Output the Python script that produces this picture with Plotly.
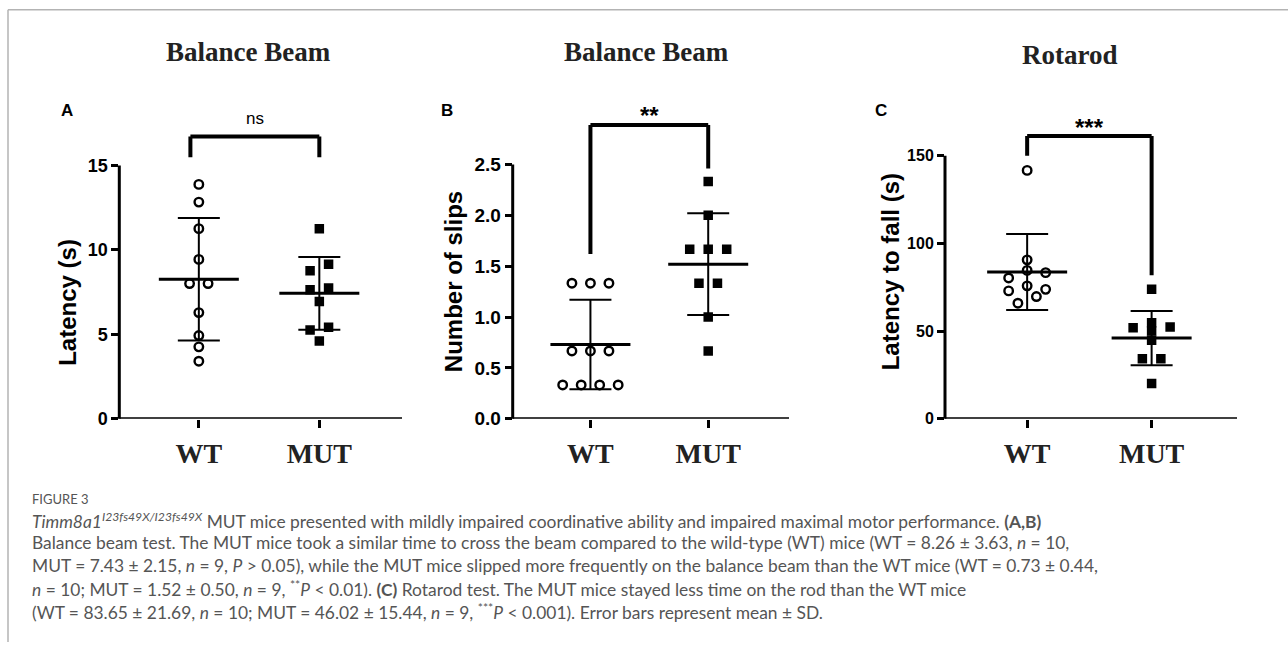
import plotly.graph_objects as go

# ---------------- data ----------------
groups = ["WT", "MUT"]

# Panel A: balance beam latency (s)
a_wt = [13.88, 12.83, 11.26, 9.44, 8.01, 8.01, 6.29, 4.93, 4.26, 3.41]
a_mut = [11.26, 9.15, 8.77, 7.74, 7.64, 6.95, 5.42, 5.26, 4.61]
a_mean = [8.26, 7.43]
a_sd = [3.63, 2.15]

# Panel B: number of slips
b_wt = [1.333, 1.333, 1.333, 0.667, 0.667, 0.667, 0.333, 0.333, 0.333, 0.333]
b_mut = [2.333, 2.0, 1.667, 1.667, 1.667, 1.333, 1.333, 1.0, 0.667]
b_mean = [0.73, 1.52]
b_sd = [0.44, 0.50]

# Panel C: rotarod latency to fall (s)
c_wt = [141.6, 90.6, 84.6, 83.3, 80.3, 75.8, 73.8, 72.9, 69.7, 65.9]
c_mut = [73.8, 54.7, 52.3, 51.9, 50.1, 44.8, 34.2, 34.2, 20.2]
c_mean = [83.65, 46.02]
c_sd = [21.69, 15.44]

panel_titles = ["Balance Beam", "Balance Beam", "Rotarod"]
panel_letters = ["A", "B", "C"]
y_titles = ["Latency (s)", "Number of slips", "Latency to fall (s)"]
y_ticks = [[0, 5, 10, 15], [0.0, 0.5, 1.0, 1.5, 2.0, 2.5], [0, 50, 100, 150]]
y_tickformat = ["d", ".1f", "d"]
sig_labels = ["ns", "**", "***"]

caption_head = "FIGURE 3"
caption_lines = [
    "<i>Timm8a1</i><sup><i>I23fs49X/I23fs49X</i></sup> MUT mice presented with mildly impaired coordinative ability and impaired maximal motor performance. <b>(A,B)</b>",
    "Balance beam test. The MUT mice took a similar time to cross the beam compared to the wild-type (WT) mice (WT = 8.26 ± 3.63, <i>n</i> = 10,",
    "MUT = 7.43 ± 2.15, <i>n</i> = 9, <i>P</i> &gt; 0.05), while the MUT mice slipped more frequently on the balance beam than the WT mice (WT = 0.73 ± 0.44,",
    "<i>n</i> = 10; MUT = 1.52 ± 0.50, <i>n</i> = 9, <sup>**</sup><i>P</i> &lt; 0.01). <b>(C)</b> Rotarod test. The MUT mice stayed less time on the rod than the WT mice",
    "(WT = 83.65 ± 21.69, <i>n</i> = 10; MUT = 46.02 ± 15.44, <i>n</i> = 9, <sup>***</sup><i>P</i> &lt; 0.001). Error bars represent mean ± SD.",
]

wt_sets = [a_wt, b_wt, c_wt]
mut_sets = [a_mut, b_mut, c_mut]
means = [a_mean, b_mean, c_mean]
sds = [a_sd, b_sd, c_sd]

# significance brackets (data units): left x, right x, top y, left leg end, right leg end
brackets = [
    (-0.07, 1.0, 16.71, 15.48, 15.48),
    (0.0, 1.0, 2.887, 1.62, 2.46),
    (0.0, 1.0, 161.2, 150.0, 81.8),
]

# ---------------- layout (pixels) ----------------
W, H = 1288, 653
BOTTOM_PX = 426.0
TOP_PX = 100.0
LEFT_PX = [119.3, 512.7, 945.0]
RIGHT_PX = [402.0, 789.0, 1237.0]
TOPTICK_PX = [168.3, 167.3, 158.3]
XR = [-0.66, 1.686]
JITTER_PX = 18.5
MEAN_HALF_PX = 40.0
CAP_HALF_PX = 21.0
TICKFONT = [18, 19, 16]
SIG_CENTER_PX = [121.0, 117.0, 130.0]
SIG_SIZE = [17, 24, 24]
TITLE_X_PX = [248, 646, 1070]
TITLE_Y_PX = [53, 53, 56]
LETTER_X_PX = [67, 447, 881]
YTITLE_X_PX = [68, 453, 890]
YTITLE_Y_PX = [308, 287, 277]

SANS = "Liberation Sans, Arial, sans-serif"
SERIF = "Liberation Serif, Times New Roman, serif"
CAPFONT = "Lato, Open Sans, sans-serif"


def xp(p):
    return p / W


def yp(p):
    return 1 - p / H


def swarm(values, px_per_unit, step, tol_px=8.0):
    order = sorted(range(len(values)), key=lambda i: -values[i])
    rows = []
    for i in order:
        if rows and (values[rows[-1][0]] - values[i]) * px_per_unit <= tol_px:
            rows[-1].append(i)
        else:
            rows.append([i])
    offs = [0.0] * len(values)
    for r in rows:
        n = len(r)
        slots = sorted([k - (n - 1) / 2 for k in range(n)], key=lambda v: (abs(v), -v))
        for i, sl in zip(r, slots):
            offs[i] = sl * step
    return offs


fig = go.Figure()
shapes = []
annotations = []

for i in range(3):
    sfx = "" if i == 0 else str(i + 1)
    xa, ya = "x" + sfx, "y" + sfx
    top_tick = y_ticks[i][-1]
    pxu_y = (BOTTOM_PX - TOPTICK_PX[i]) / top_tick
    y_top = (BOTTOM_PX - TOP_PX) / pxu_y
    pxu_x = (RIGHT_PX[i] - LEFT_PX[i]) / (XR[1] - XR[0])
    step = JITTER_PX / pxu_x
    hw = MEAN_HALF_PX / pxu_x

    wt = wt_sets[i]
    mut = mut_sets[i]
    wt_off = swarm(wt, pxu_y, step)
    mut_off = swarm(mut, pxu_y, step)

    fig.add_trace(go.Scatter(
        x=[0 + o for o in wt_off], y=wt, mode="markers", xaxis=xa, yaxis=ya,
        marker=dict(symbol="circle-open", size=8.5, color="black", line=dict(width=2.4)),
        showlegend=False, hoverinfo="skip"))
    fig.add_trace(go.Scatter(
        x=[1 + o for o in mut_off], y=mut, mode="markers", xaxis=xa, yaxis=ya,
        marker=dict(symbol="square", size=9.5, color="black", line=dict(width=0)),
        showlegend=False, hoverinfo="skip"))
    # SD error bars
    fig.add_trace(go.Scatter(
        x=[0, 1], y=means[i], mode="markers", xaxis=xa, yaxis=ya,
        marker=dict(size=1, color="rgba(0,0,0,0)"),
        error_y=dict(type="data", array=sds[i], width=CAP_HALF_PX, thickness=2, color="black"),
        showlegend=False, hoverinfo="skip"))
    # mean lines
    for g in range(2):
        fig.add_trace(go.Scatter(
            x=[g - hw, g + hw], y=[means[i][g], means[i][g]], mode="lines",
            xaxis=xa, yaxis=ya, line=dict(color="black", width=3),
            showlegend=False, hoverinfo="skip"))

    dom_x = [xp(LEFT_PX[i]), xp(RIGHT_PX[i])]
    dom_y = [yp(BOTTOM_PX), yp(TOP_PX)]
    fig.update_layout(**{
        "xaxis" + sfx: dict(
            domain=dom_x, range=XR, anchor=ya, tickvals=[0, 1], ticktext=groups,
            showline=False, ticks="outside", ticklen=8, tickwidth=2.5, tickcolor="black",
            showgrid=False, zeroline=False,
            tickfont=dict(family=SERIF, size=28, color="#222", weight="bold"),
            ticklabelstandoff=2, fixedrange=True),
        "yaxis" + sfx: dict(
            domain=dom_y, range=[0, y_top], anchor=xa, tickvals=y_ticks[i],
            tickformat=y_tickformat[i],
            showline=False, ticks="outside", ticklen=7, tickwidth=2.5, tickcolor="black",
            showgrid=False, zeroline=False,
            tickfont=dict(family=SANS, size=TICKFONT[i], color="black", weight="bold"),
            fixedrange=True),
    })

    # axis lines (L shape) in axis coordinates
    shapes.append(dict(type="line", xref=xa + " domain", yref=ya, x0=0, x1=0,
                       y0=-1.5 / pxu_y, y1=top_tick, line=dict(color="black", width=3)))
    shapes.append(dict(type="line", xref=xa + " domain", yref=ya, x0=0, x1=1,
                       y0=0, y1=0, line=dict(color="black", width=3)))

    # significance bracket
    bx0, bx1, btop, bl, br = brackets[i]
    for (x0, y0, x1, y1) in [(bx0, bl, bx0, btop), (bx0, btop, bx1, btop), (bx1, btop, bx1, br)]:
        shapes.append(dict(type="line", xref=xa, yref=ya, x0=x0, y0=y0, x1=x1, y1=y1,
                           line=dict(color="black", width=4)))
    annotations.append(dict(
        x=(bx0 + bx1) / 2, xref=xa, yref="paper",
        y=yp(SIG_CENTER_PX[i]), text=sig_labels[i], showarrow=False,
        xanchor="center", yanchor="middle",
        font=dict(family=SANS, size=SIG_SIZE[i], color="black",
                  weight="normal" if i == 0 else "bold")))

    # titles, letters, y titles
    annotations.append(dict(
        x=xp(TITLE_X_PX[i]), y=yp(TITLE_Y_PX[i]), xref="paper", yref="paper",
        text=panel_titles[i], showarrow=False, xanchor="center", yanchor="middle",
        font=dict(family=SERIF, size=27, color="#222", weight="bold")))
    annotations.append(dict(
        x=xp(LETTER_X_PX[i]), y=yp(112.5), xref="paper", yref="paper",
        text=panel_letters[i], showarrow=False, xanchor="center", yanchor="middle",
        font=dict(family=SANS, size=17, color="black", weight="bold")))
    annotations.append(dict(
        x=xp(YTITLE_X_PX[i]), y=yp(YTITLE_Y_PX[i]), xref="paper", yref="paper",
        text=y_titles[i], showarrow=False, xanchor="center", yanchor="middle",
        textangle=-90,
        font=dict(family=SANS, size=24, color="black", weight="bold")))

# figure border lines
shapes.append(dict(type="line", xref="paper", yref="paper", x0=xp(8), x1=1.0,
                   y0=yp(10), y1=yp(10), line=dict(color="#b3b3b3", width=1.5)))
shapes.append(dict(type="line", xref="paper", yref="paper", x0=xp(8), x1=xp(8),
                   y0=yp(10), y1=0.0, line=dict(color="#b3b3b3", width=1.5)))

# caption
annotations.append(dict(
    x=xp(30), y=yp(508), xref="paper", yref="paper", text=caption_head,
    showarrow=False, xanchor="left", yanchor="middle",
    font=dict(family=CAPFONT, size=13, color="#555")))
for k, line in enumerate(caption_lines):
    annotations.append(dict(
        x=xp(30), y=yp(529 + 23.3 * k), xref="paper", yref="paper", text=line,
        showarrow=False, xanchor="left", yanchor="middle",
        font=dict(family=CAPFONT, size=17.4, color="#555")))

fig.update_layout(
    width=W, height=H, autosize=False,
    margin=dict(l=0, r=0, t=0, b=0, pad=0),
    paper_bgcolor="white", plot_bgcolor="white",
    shapes=shapes, annotations=annotations, showlegend=False,
)

fig.write_html("out.html", config={"displayModeBar": False},
               post_script="document.body.style.margin='0';document.body.style.overflow='hidden';")
